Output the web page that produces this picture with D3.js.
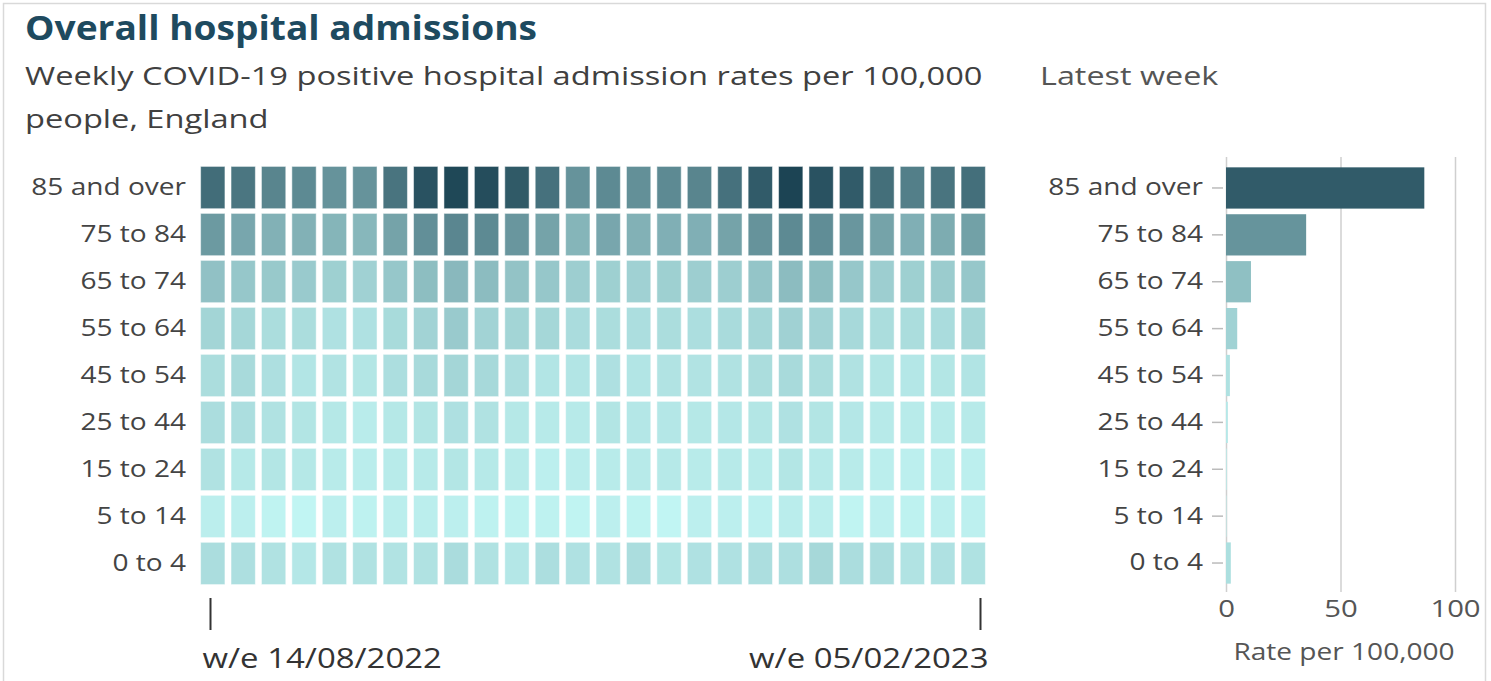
<!DOCTYPE html>
<html>
<head>
<meta charset="utf-8">
<script src="https://cdn.jsdelivr.net/npm/d3@7"></script>
<style>
  html, body { margin: 0; padding: 0; background: #fff; }
  svg { display: block; font-family: "Open Sans", sans-serif; }
</style>
</head>
<body>
<svg id="chart" width="1491" height="681"></svg>
<script>
// ---- Data ----
const ageGroups = ["85 and over", "75 to 84", "65 to 74", "55 to 64", "45 to 54", "25 to 44", "15 to 24", "5 to 14", "0 to 4"];
const firstWeekLabel = "w/e 14/08/2022";
const lastWeekLabel = "w/e 05/02/2023";
const weekIndex = d3.range(26); // 26 weekly columns, w/e 14/08/2022 .. w/e 05/02/2023

const rate85plus = [89, 78, 61, 56, 47, 47, 80, 127, 144, 135, 116, 84, 47, 56, 50, 56, 61, 84, 114, 150, 127, 114, 87, 67, 80, 86.6];
const rate75to84 = [40.6, 30.4, 22.8, 22.8, 20.5, 19.4, 33.1, 50.5, 59.5, 55.8, 43.7, 33.1, 20.5, 30.4, 22.8, 24, 24, 33.1, 47, 55.8, 52.2, 43.7, 33.1, 24, 26.5, 35];
const rate65to74 = [13.5, 10.9, 10.1, 9.4, 7.3, 6.6, 10.9, 15.4, 18.4, 16.3, 12.6, 10.9, 7.9, 7.3, 6.6, 7.3, 7.9, 7.9, 11.8, 16.3, 15.4, 10.9, 7.9, 7.3, 8.6, 10.9];
const rate55to64 = [5.4, 4.9, 3.2, 3.2, 2.2, 2.2, 3.8, 6.0, 9.4, 6.0, 5.4, 4.9, 3.4, 3.2, 2.9, 3.2, 2.9, 3.6, 4.9, 6.6, 6.0, 4.3, 3.2, 3.2, 3.4, 4.9];
const rate45to54 = [3.2, 4.0, 2.6, 1.5, 1.8, 1.4, 2.9, 4.0, 5.2, 4.3, 2.9, 1.5, 1.5, 2.4, 1.5, 1.8, 1.8, 2.0, 3.2, 4.0, 3.2, 2.0, 1.4, 1.2, 1.4, 1.7];
const rate25to44 = [3.1, 2.9, 2.0, 1.6, 1.07, 0.54, 1.07, 1.6, 2.4, 2.0, 1.07, 0.78, 0.78, 1.6, 1.2, 1.2, 1.07, 1.2, 1.4, 2.2, 1.6, 1.2, 0.78, 0.66, 0.66, 0.8];
const rate15to24 = [2.0, 0.92, 1.4, 1.07, 0.66, 0.44, 0.66, 0.78, 1.4, 0.92, 0.66, 0.27, 0.44, 0.66, 0.78, 0.92, 0.66, 0.78, 0.66, 1.4, 0.78, 0.66, 0.35, 0.27, 0.35, 0.3];
const rate5to14 = [0.35, 0.27, 0.09, 0.02, 0.27, 0.14, 0.35, 0.35, 0.27, 0.14, 0.14, 0.14, 0.05, 0.27, 0.09, 0.02, 0.27, 0.27, 0.2, 0.44, 0.35, 0.05, 0.2, 0.14, 0.27, 0.2];
const rate0to4 = [3.1, 2.6, 2.0, 1.2, 2.0, 2.0, 1.8, 2.0, 3.4, 2.0, 1.2, 2.9, 2.2, 2.0, 3.1, 1.6, 2.2, 2.2, 2.9, 2.6, 4.6, 3.1, 3.1, 1.8, 2.2, 2.1];

const barTicks = [0, 50, 100];

// ---- Build table ----
const seriesByAge = [rate85plus, rate75to84, rate65to74, rate55to64, rate45to54, rate25to44, rate15to24, rate5to14, rate0to4];
const cells = [];
ageGroups.forEach((g, i) => weekIndex.forEach(w => cells.push({ age: g, week: w, value: seriesByAge[i][w] })));
const latest = ageGroups.map((g, i) => ({ age: g, value: seriesByAge[i][weekIndex.length - 1] }));

const svg = d3.select("#chart");
const K = 1.22; // horizontal stretch of the lettering

function label(x, y, txt, size, fill, anchor, k) {
  return svg.append("text")
    .attr("transform", `translate(${x},${y}) scale(${k || K},1)`)
    .attr("text-anchor", anchor || "start")
    .attr("font-size", size).attr("fill", fill).text(txt);
}

// Border
svg.append("rect").attr("x", 3.5).attr("y", 3.5).attr("width", 1482).attr("height", 700)
  .attr("fill", "none").attr("stroke", "#d9d9d9").attr("stroke-width", 1.5);

// Titles
svg.append("text").attr("x", 25).attr("y", 40).text("Overall hospital admissions")
  .attr("font-size", 34).attr("font-weight", 700).attr("fill", "#1e4a5f")
  .attr("textLength", 512).attr("lengthAdjust", "spacingAndGlyphs");
label(25, 85, "Weekly COVID-19 positive hospital admission rates per 100,000", 26, "#404040", "start", 1.255);
label(25, 128, "people, England", 26, "#404040", "start", 1.255);
label(1040, 85, "Latest week", 26, "#555", "start", 1.245);

// Colour scales
const lightCol = "#c3f7f5", darkCol = "#1c4454";
const heatColor = d3.scaleSequentialSqrt([0, d3.max(cells, d => d.value)], d3.interpolateRgb(lightCol, darkCol));
const barColor = d3.scaleSequentialSqrt([0, 114], d3.interpolateRgb(lightCol, darkCol)).clamp(true);

// ---- Heatmap ----
const x = d3.scaleBand(weekIndex, [200, 986]).paddingInner(0.2).paddingOuter(0.02);
const y = d3.scaleBand(ageGroups, [165, 586]).paddingInner(0.1).paddingOuter(0.03);

svg.append("g").selectAll("rect").data(cells).join("rect")
  .attr("x", d => x(d.week)).attr("y", d => y(d.age))
  .attr("width", x.bandwidth()).attr("height", y.bandwidth())
  .attr("fill", d => heatColor(d.value))
  .attr("stroke", "#ffffff").attr("stroke-opacity", 0.5).attr("stroke-width", 1);

const yAxisL = svg.append("g").attr("transform", "translate(186,0)")
  .call(d3.axisLeft(y).tickSize(0).tickPadding(0));
yAxisL.select(".domain").remove();
yAxisL.selectAll("text").attr("font-size", 23).attr("fill", "#444").attr("font-family", "Open Sans, sans-serif")
  .attr("x", 0).attr("transform", `scale(${K},1)`);

// bottom axis with first / last week
const xPoint = d3.scalePoint(weekIndex, [210, 980]);
const xAxis = svg.append("g").attr("transform", "translate(0,598)")
  .call(d3.axisBottom(xPoint).tickValues([0, weekIndex.length - 1]).tickSize(32).tickPadding(19)
    .tickFormat(d => d === 0 ? firstWeekLabel : lastWeekLabel));
xAxis.select(".domain").remove();
xAxis.selectAll("line").attr("stroke", "#333").attr("stroke-width", 2);
xAxis.selectAll("text").attr("font-size", 27).attr("fill", "#333").attr("font-family", "Open Sans, sans-serif")
  .attr("text-anchor", d => d === 0 ? "start" : "end")
  .attr("transform", `scale(${K},1)`)
  .attr("x", d => d === 0 ? -8 / K : 8 / K);

// ---- Latest week bar chart ----
const xb = d3.scaleLinear([0, 100], [1226, 1455]);
const yb = d3.scaleBand(ageGroups, [165, 586]).paddingInner(0.12).paddingOuter(0.05);

const grid = svg.append("g").attr("transform", "translate(0,157)")
  .call(d3.axisBottom(xb).tickValues(barTicks).tickSize(435).tickPadding(8));
grid.select(".domain").remove();
grid.selectAll("line").attr("stroke", "#cfcfcf").attr("stroke-width", 1.5);
grid.selectAll("text").attr("font-size", 24).attr("fill", "#555").attr("font-family", "Open Sans, sans-serif")
  .attr("transform", `scale(${K},1)`);

svg.append("g").selectAll("rect").data(latest).join("rect")
  .attr("x", xb(0)).attr("y", d => yb(d.age))
  .attr("width", d => xb(d.value) - xb(0)).attr("height", yb.bandwidth())
  .attr("fill", d => barColor(d.value));

const yAxisR = svg.append("g").attr("transform", "translate(1223,0)")
  .call(d3.axisLeft(yb).tickSize(11).tickPadding(9));
yAxisR.select(".domain").remove();
yAxisR.selectAll("line").attr("stroke", "#bbb").attr("stroke-width", 1.5);
yAxisR.selectAll("text").attr("font-size", 23).attr("fill", "#444").attr("font-family", "Open Sans, sans-serif")
  .attr("x", -20 / K).attr("transform", `scale(${K},1)`);

label(1344, 660, "Rate per 100,000", 24, "#555", "middle", 1.17);
</script>
</body>
</html>
